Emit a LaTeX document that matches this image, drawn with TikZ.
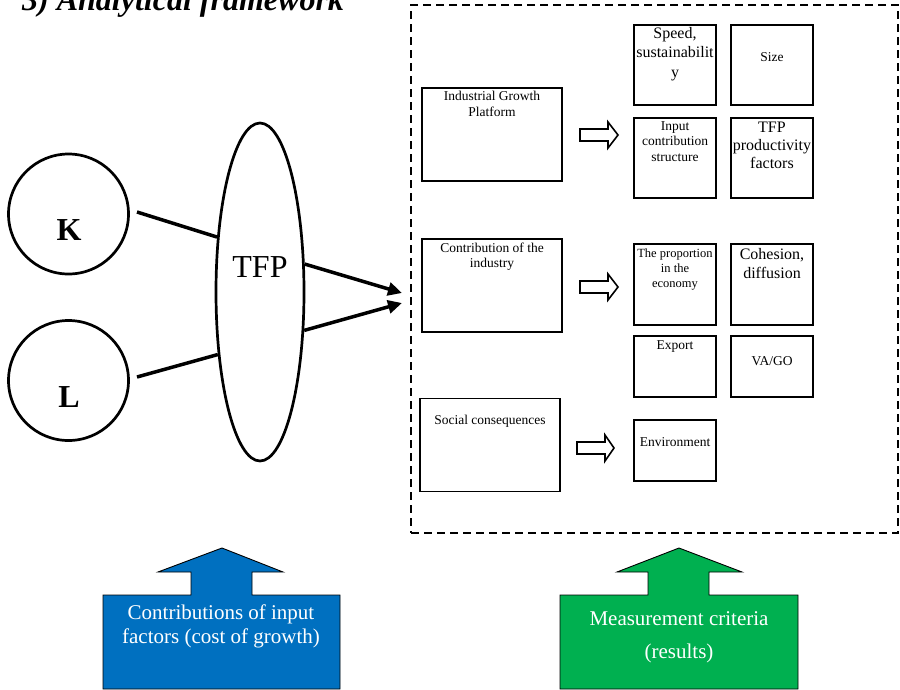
\documentclass[tikz,border=0pt]{standalone}
\usepackage{fontspec}
\setmainfont{Liberation Serif}
\usetikzlibrary{arrows.meta,shapes.geometric,calc}
\definecolor{cblue}{HTML}{0070C0}
\definecolor{cgreen}{HTML}{00B050}
\begin{document}
\begin{tikzpicture}[x=1pt,y=-1pt,
  box/.style={draw, line width=1.8pt, minimum width=82pt, minimum height=80pt, inner sep=0pt},
  bigbox/.style={box, minimum width=140pt, minimum height=93pt},
  txt/.style={anchor=north, align=center, inner sep=0pt, font=\fontsize{13.5}{16}\selectfont},
  circ/.style={draw, circle, line width=2.7pt, minimum size=120pt, inner sep=0pt},
  link/.style={line width=3.5pt},
  arr/.style={line width=3.5pt, -{Triangle[length=14pt,width=13pt]}},
  barrow/.style={draw, line width=1.6pt, fill=white, line join=miter},
  callout/.style={draw=black, line width=0.9pt},
  ctext/.style={text=white, align=center, inner sep=0pt, anchor=north, font=\fontsize{21}{24}\selectfont},
]
\useasboundingbox (0,0) rectangle (900,689);

% title
\node[anchor=base west, inner sep=0pt, font=\fontsize{32}{38}\bfseries\itshape\selectfont] (title) at (22,10) {3) Analytical framework};

% dashed frame
\node[draw, line width=2pt, dash pattern=on 8pt off 5pt, minimum width=487pt, minimum height=528pt, inner sep=0pt] (frame) at (654.5,269) {};

% inputs
\node[circ] (K) at (68.5,214) {};
\node[circ] (L) at (68.5,380.5) {};
\node[inner sep=0pt, font=\fontsize{32}{38}\bfseries\selectfont] (Kt) at (69,230) {K};
\node[inner sep=0pt, font=\fontsize{32}{38}\bfseries\selectfont] (Lt) at (69,397) {L};
\node[draw, ellipse, line width=2.7pt, minimum width=88pt, minimum height=338pt, inner sep=0pt] (TFP) at (260,292) {};
\node[inner sep=0pt, font=\fontsize{32}{38}\selectfont] (TFPt) at (260,267) {TFP};

\coordinate (tipA) at (402,293);
\coordinate (tipB) at (402,303);
\draw[link] ($(K.center)+(68.5,-2)$) -- (TFP.128);
\draw[link] ($(L.center)+(68.5,-3.5)$) -- (TFP.236);
\draw[arr] (TFP.32) -- (tipA);
\draw[arr] (TFP.-41) -- (tipB);

% left boxes
\node[bigbox] (igp) at (492,134.5) {};
\node[bigbox] (contrib) at (492,285.5) {};
\node[bigbox] (social) at (490,445) {};
\node[txt] (igpT) at (492,91) {Industrial Growth\\Platform};
\node[txt, font=\fontsize{13.5}{15}\selectfont] (contribT) at (492,243) {Contribution of the\\industry};
\node[txt] (socialT) at (490,415) {Social consequences};

% block arrows
\coordinate (ba1) at (580,135);
\coordinate (ba2) at (580,287);
\coordinate (ba3) at (577,448);
\draw[barrow] (ba1) ++(0,-6) -- ++(28,0) -- ++(0,-7) -- ++(10,13) -- ++(-10,13) -- ++(0,-7) -- ++(-28,0) -- cycle;
\draw[barrow] (ba2) ++(0,-6) -- ++(28,0) -- ++(0,-7) -- ++(10,13) -- ++(-10,13) -- ++(0,-7) -- ++(-28,0) -- cycle;
\draw[barrow] (ba3) ++(0,-6) -- ++(28,0) -- ++(0,-7) -- ++(9,13) -- ++(-9,13) -- ++(0,-7) -- ++(-28,0) -- cycle;

% right boxes
\node[box] (speed) at (675,65) {};
\node[box] (size) at (772,65) {};
\node[box] (input) at (675,158) {};
\node[box] (tfpf) at (772,158) {};
\node[box, minimum height=81pt] (prop) at (675,284.5) {};
\node[box, minimum height=81pt] (cohes) at (772,284.5) {};
\node[box, minimum height=61pt] (export) at (675,366.5) {};
\node[box, minimum height=61pt] (vago) at (772,366.5) {};
\node[box, minimum height=61pt] (env) at (675,450.5) {};

\node[txt, font=\fontsize{16}{19.5}\selectfont] (speedT) at (675,27) {Speed,\\sustainabilit\\y};
\node[txt] (sizeT) at (772,52) {Size};
\node[txt, font=\fontsize{13.5}{15.5}\selectfont] (inputT) at (675,121) {Input\\contribution\\structure};
\node[txt, font=\fontsize{16}{18}\selectfont] (tfpfT) at (772,122) {TFP\\productivity\\factors};
\node[txt, font=\fontsize{12.5}{15}\selectfont] (propT) at (675,248.5) {The proportion\\in the\\economy};
\node[txt, font=\fontsize{16}{19}\selectfont] (cohesT) at (772,248) {Cohesion,\\diffusion};
\node[txt] (exportT) at (675,340) {Export};
\node[txt] (vagoT) at (772,356) {VA/GO};
\node[txt] (envT) at (675,437) {Environment};

% bottom callouts
\draw[callout, fill=cblue] (222,548) -- (283,572) -- (252,572) -- (252,595) -- (340,595) -- (340,689) -- (103,689) -- (103,595) -- (191,595) -- (191,572) -- (158,572) -- cycle;
\draw[callout, fill=cgreen] (679,548) -- (742,572) -- (709,572) -- (709,595) -- (798,595) -- (798,689) -- (560,689) -- (560,595) -- (648,595) -- (648,572) -- (617,572) -- cycle;
\node[ctext] (blueT) at (221,605) {Contributions of input\\factors (cost of growth)};
\node[ctext, font=\fontsize{21}{33}\selectfont] (greenT) at (679,611) {Measurement criteria\\(results)};
\end{tikzpicture}
\end{document}
